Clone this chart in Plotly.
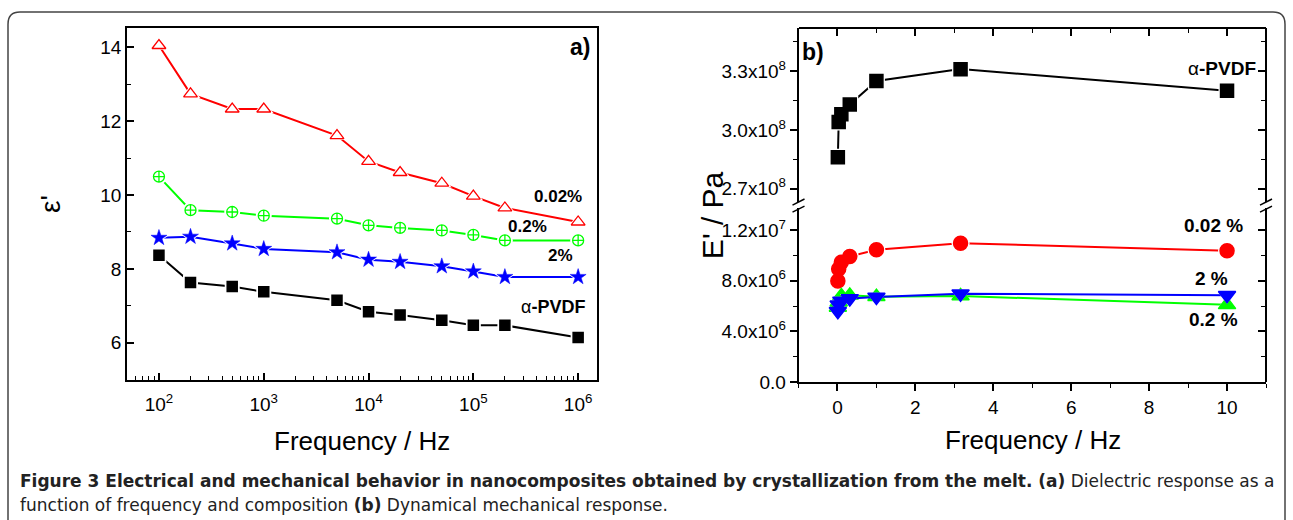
import plotly.graph_objects as go

W, H = 1293, 520
K = 1.027  # vertical calibration of the measured pixel positions
def px(x): return x / W
def py(y): return 1 - (y * K) / H

# ---------------- data: panel a (dielectric) ----------------
freq_a = [1e2, 2e2, 5e2, 1e3, 5e3, 1e4, 2e4, 5e4, 1e5, 2e5, 1e6]
eps_002 = [14.05, 12.74, 12.33, 12.33, 11.61, 10.91, 10.61, 10.32, 9.97, 9.65, 9.27]
eps_02 = [10.50, 9.59, 9.54, 9.44, 9.36, 9.18, 9.11, 9.04, 8.92, 8.77, 8.77]
eps_2 = [8.84, 8.87, 8.69, 8.54, 8.45, 8.25, 8.19, 8.07, 7.93, 7.78, 7.78]
eps_pvdf = [8.37, 7.63, 7.52, 7.38, 7.15, 6.84, 6.75, 6.61, 6.47, 6.47, 6.14]

xa_tickvals = [1e2, 1e3, 1e4, 1e5, 1e6]
xa_ticktext = ["10<sup>2</sup>", "10<sup>3</sup>", "10<sup>4</sup>", "10<sup>5</sup>", "10<sup>6</sup>"]
xa_minor = [m * 10 ** e for e in range(1, 6) for m in range(2, 10) if m * 10 ** e > 55]
ya_tickvals = [6, 8, 10, 12, 14]
ya_minor = [7, 9, 11, 13]

# ---------------- data: panel b (DMA) ----------------
freq_b = [0.01, 0.0316, 0.1, 0.316, 1.0, 3.16, 10.0]
E_pvdf = [2.86e8, 3.04e8, 3.08e8, 3.13e8, 3.25e8, 3.31e8, 3.20e8]
E_002 = [7.98e6, 8.94e6, 9.46e6, 9.93e6, 10.45e6, 10.97e6, 10.38e6]
E_02 = [5.9e6, 6.3e6, 6.8e6, 6.85e6, 6.75e6, 6.8e6, 6.1e6]
E_2 = [5.6e6, 6.1e6, 6.4e6, 6.6e6, 6.72e6, 6.98e6, 6.86e6]

yb_up_tickvals = [2.7e8, 3.0e8, 3.3e8]
yb_up_ticktext = ["2.7x10<sup>8</sup>", "3.0x10<sup>8</sup>", "3.3x10<sup>8</sup>"]
yb_up_minor = [2.85e8, 3.15e8, 3.45e8]
yb_lo_tickvals = [0, 4e6, 8e6, 1.2e7]
yb_lo_ticktext = ["0.0", "4.0x10<sup>6</sup>", "8.0x10<sup>6</sup>", "1.2x10<sup>7</sup>"]
yb_lo_minor = [2e6, 6e6, 1e7]
xb_tickvals = [0, 2, 4, 6, 8, 10]
xb_minor = [-1, 1, 3, 5, 7, 9, 11]

RED, GREEN, BLUE, BLACK = "#ff0000", "#00ff00", "#0000ff", "#000000"
FONT = "Liberation Sans, Arial, sans-serif"

fig = go.Figure()

def add_series(x, y, color, symbol, size, fill, xa, ya, lw=2.0, mlw=1.5, halo=5):
    common = dict(x=x, y=y, xaxis=xa, yaxis=ya, showlegend=False, hoverinfo="skip")
    fig.add_trace(go.Scatter(mode="lines", line=dict(color=color, width=lw), **common))
    fig.add_trace(go.Scatter(mode="markers",
                             marker=dict(symbol=symbol, size=size + halo, color="white", line=dict(width=0)),
                             **common))
    fig.add_trace(go.Scatter(mode="markers",
                             marker=dict(symbol=symbol, size=size, color=fill, line=dict(color=color, width=mlw)),
                             **common))

# panel a
add_series(freq_a, eps_pvdf, BLACK, "square", 10, BLACK, "x", "y")
add_series(freq_a, eps_2, BLUE, "star", 12, BLUE, "x", "y", mlw=0.5)
add_series(freq_a, eps_02, GREEN, "circle-cross", 11, "white", "x", "y", mlw=1.3)
add_series(freq_a, eps_002, RED, "triangle-up", 12, "white", "x", "y", mlw=1.3)

# panel b
add_series(freq_b, E_pvdf, BLACK, "square", 13, BLACK, "x2", "y2", halo=4)
add_series(freq_b, E_002, RED, "circle", 14, RED, "x2", "y3", halo=4)
add_series(freq_b, E_02, GREEN, "triangle-up", 15, GREEN, "x2", "y3", halo=2)
add_series(freq_b, E_2, BLUE, "triangle-down", 15, BLUE, "x2", "y3", halo=2)

# dummy traces so that mirror (inside-tick) axes get drawn
fig.add_trace(go.Scatter(x=[None], y=[None], xaxis="x3", yaxis="y4", showlegend=False, hoverinfo="skip"))
fig.add_trace(go.Scatter(x=[None], y=[None], xaxis="x3", yaxis="y5", showlegend=False, hoverinfo="skip"))

axis_common = dict(showgrid=False, zeroline=False, showline=True, linecolor="black", linewidth=1.5,
                   tickcolor="black", tickwidth=1.5, tickfont=dict(size=19, family=FONT, color="black"))

left_dom_x = [px(127), px(597)]
right_dom_x = [px(798.5), px(1266)]
up_dom = [py(201), py(28)]
lo_dom = [py(380), py(207)]
yb_up_range = [2.632e8, 3.519e8]
yb_lo_range = [0, 1.375e7]

fig.update_layout(
    width=W, height=H, autosize=False, margin=dict(l=0, r=0, t=0, b=0),
    paper_bgcolor="white", plot_bgcolor="rgba(0,0,0,0)",
    font=dict(family=FONT, color="black"),
    xaxis=dict(type="log", domain=left_dom_x, range=[1.695, 6.18], anchor="y",
               tickmode="array", tickvals=xa_tickvals, ticktext=xa_ticktext,
               ticks="inside", ticklen=7, mirror=True, ticklabelstandoff=6,
               minor=dict(tickmode="array", tickvals=xa_minor, ticks="inside", ticklen=4,
                          tickwidth=1.2, tickcolor="black", showgrid=False),
               **axis_common),
    yaxis=dict(domain=[py(378), py(28)], range=[4.99, 14.52], anchor="x",
               tickmode="array", tickvals=ya_tickvals, ticks="inside", ticklen=7, mirror=True,
               minor=dict(tickmode="array", tickvals=ya_minor, ticks="inside", ticklen=4,
                          tickwidth=1.2, tickcolor="black", showgrid=False),
               **axis_common),
    xaxis2=dict(domain=right_dom_x, range=[-1, 11], anchor="y3",
                tickmode="array", tickvals=xb_tickvals, ticks="outside", ticklen=7,
                minor=dict(tickmode="array", tickvals=xb_minor, ticks="outside", ticklen=4,
                           tickwidth=1.2, tickcolor="black", showgrid=False),
                **axis_common),
    xaxis3=dict(overlaying="x2", anchor="free", position=py(28), side="top", range=[-1, 11],
                tickmode="array", tickvals=xb_tickvals, ticks="inside", ticklen=7, showticklabels=False,
                minor=dict(tickmode="array", tickvals=xb_minor, ticks="inside", ticklen=4,
                           tickwidth=1.2, tickcolor="black", showgrid=False),
                **axis_common),
    yaxis2=dict(domain=up_dom, range=yb_up_range, anchor="x2",
                tickmode="array", tickvals=yb_up_tickvals, ticktext=yb_up_ticktext,
                ticks="outside", ticklen=7,
                minor=dict(tickmode="array", tickvals=yb_up_minor, ticks="outside", ticklen=4,
                           tickwidth=1.2, tickcolor="black", showgrid=False),
                **axis_common),
    yaxis3=dict(domain=lo_dom, range=yb_lo_range, anchor="x2",
                tickmode="array", tickvals=yb_lo_tickvals, ticktext=yb_lo_ticktext,
                ticks="outside", ticklen=7,
                minor=dict(tickmode="array", tickvals=yb_lo_minor, ticks="outside", ticklen=4,
                           tickwidth=1.2, tickcolor="black", showgrid=False),
                **axis_common),
    yaxis4=dict(overlaying="y2", anchor="free", position=px(1266), side="right", range=yb_up_range,
                tickmode="array", tickvals=yb_up_tickvals, ticks="inside", ticklen=7, showticklabels=False,
                minor=dict(tickmode="array", tickvals=yb_up_minor, ticks="inside", ticklen=4,
                           tickwidth=1.2, tickcolor="black", showgrid=False),
                **axis_common),
    yaxis5=dict(overlaying="y3", anchor="free", position=px(1266), side="right", range=yb_lo_range,
                tickmode="array", tickvals=yb_lo_tickvals, ticks="inside", ticklen=7, showticklabels=False,
                minor=dict(tickmode="array", tickvals=yb_lo_minor, ticks="inside", ticklen=4,
                           tickwidth=1.2, tickcolor="black", showgrid=False),
                **axis_common),
)

ann = []
def label(text, x, y, xref, yref, size=18, **kw):
    d = dict(text=text, x=x, y=y, xref=xref, yref=yref, showarrow=False,
             xanchor="center", yanchor="middle",
             font=dict(size=size, family=FONT, color="black"))
    d.update(kw)
    ann.append(d)

# panel a labels (log axis -> log10 coordinates)
label("<b>0.02%</b>", 5.81, 9.97, "x", "y", 17)
label("<b>0.2%</b>", 5.52, 9.16, "x", "y", 17)
label("<b>2%</b>", 5.83, 8.37, "x", "y", 17)
label("α<b>-PVDF</b>", 5.76, 6.98, "x", "y", 18)
label("<b>a)</b>", 6.02, 14.0, "x", "y", 23)
# panel b labels
label("<b>b)</b>", -0.62, 3.397e8, "x2", "y2", 23)
label("α<b>-PVDF</b>", 9.86, 3.312e8, "x2", "y2", 19)
label("<b>0.02 %</b>", 9.66, 1.24e7, "x2", "y3", 19)
label("<b>2 %</b>", 9.61, 8.15e6, "x2", "y3", 19)
label("<b>0.2 %</b>", 9.64, 4.95e6, "x2", "y3", 19)
# axis titles
label("ε'", px(50), py(203), "paper", "paper", 28, textangle=-90)
label("E' / Pa", px(712), py(214), "paper", "paper", 30, textangle=-90)
label("Frequency / Hz", px(362), py(439), "paper", "paper", 26)
label("Frequency / Hz", px(1033), py(438), "paper", "paper", 26)
# caption
CAP = "DejaVu Sans, sans-serif"
ann.append(dict(text="<b>Figure 3 Electrical and mechanical behavior in nanocomposites obtained by crystallization from the melt. (a)</b> Dielectric response as a",
                x=px(18), y=py(478), xref="paper", yref="paper", xanchor="left", yanchor="middle",
                showarrow=False, font=dict(size=17, family=CAP, color="#222")))
ann.append(dict(text="function of frequency and composition <b>(b)</b> Dynamical mechanical response.",
                x=px(18), y=py(502), xref="paper", yref="paper", xanchor="left", yanchor="middle",
                showarrow=False, font=dict(size=17, family=CAP, color="#222")))
fig.update_layout(annotations=ann)

# frame box with rounded top corners and axis-break marks
shapes = []
r = 12
path = (f"M {px(8)},{py(560)} L {px(8)},{py(12 + r)} Q {px(8)},{py(12)} {px(8 + r)},{py(12)} "
        f"L {px(1285 - r)},{py(12)} Q {px(1285)},{py(12)} {px(1285)},{py(12 + r)} L {px(1285)},{py(560)}")
shapes.append(dict(type="path", path=path, xref="paper", yref="paper", line=dict(color="#444", width=1.5)))
for cx in (798.5, 1266):
    for yy in (201, 208):
        shapes.append(dict(type="line", xref="paper", yref="paper",
                           x0=px(cx - 6), y0=py(yy + 3), x1=px(cx + 6), y1=py(yy - 3),
                           line=dict(color="black", width=1.5)))
fig.update_layout(shapes=shapes)

fig.write_html("out.html", config={"responsive": False})
